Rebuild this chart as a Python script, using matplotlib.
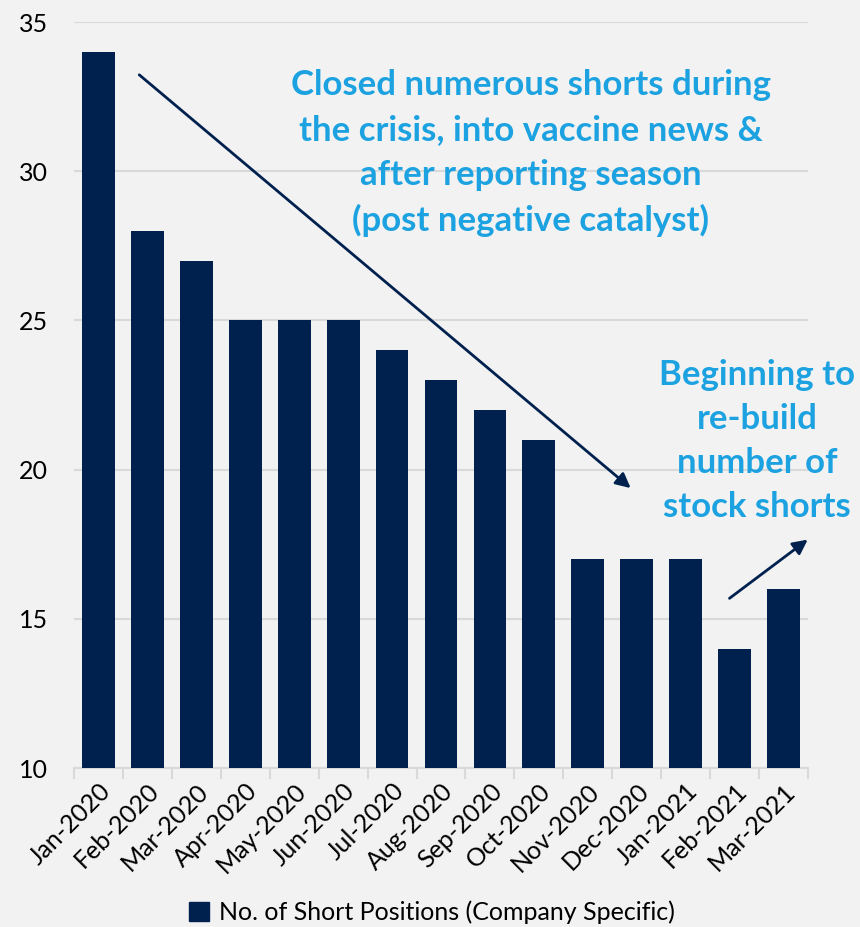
import matplotlib
matplotlib.use("Agg")
import matplotlib.pyplot as plt
from matplotlib.patches import Patch

months = ["Jan-2020", "Feb-2020", "Mar-2020", "Apr-2020", "May-2020", "Jun-2020",
          "Jul-2020", "Aug-2020", "Sep-2020", "Oct-2020", "Nov-2020", "Dec-2020",
          "Jan-2021", "Feb-2021", "Mar-2021"]
shorts = [34, 28, 27, 25, 25, 25, 24, 23, 22, 21, 17, 17, 17, 14, 16]
yticks = [10, 15, 20, 25, 30, 35]

plt.rcParams['font.family'] = ['Lato', 'DejaVu Sans']
bg = "#F2F2F2"
navy = "#00204E"
blue = "#1CA2E0"

fig = plt.figure(figsize=(8.6, 9.27), dpi=100, facecolor=bg)
ax = fig.add_axes([74/860, 1-768/927, (808-74)/860, (768-22)/927])
ax.set_facecolor(bg)

x = list(range(len(months)))
ax.bar(x, shorts, width=0.67, color=navy, zorder=3, bottom=0)
ax.set_ylim(10, 35)
ax.set_xlim(-0.5, len(months) - 0.5)
ax.set_yticks(yticks)
ax.set_yticklabels([str(t) for t in yticks], fontsize=18)
ax.yaxis.grid(True, color="#D9D9D9", linewidth=1.5, zorder=0)
ax.set_axisbelow(True)
ax.tick_params(axis='y', length=0, pad=19)
for s in ['top', 'right', 'left']:
    ax.spines[s].set_visible(False)
ax.spines['bottom'].set_color("#D9D9D9")
ax.spines['bottom'].set_linewidth(1.5)

ax.set_xticks([i - 0.5 for i in range(len(months) + 1)], minor=False)
ax.set_xticklabels([])
ax.tick_params(axis='x', which='major', length=8, color="#D9D9D9", width=1.5)
ax.set_xticks(x, minor=True)
ax.set_xticklabels(months, minor=True, rotation=45, ha='right', rotation_mode='anchor', fontsize=18)
ax.tick_params(axis='x', which='minor', length=0, pad=8)

ax.annotate("", xy=(10.92, 19.32), xytext=(0.79, 33.29),
            arrowprops=dict(arrowstyle="-|>", color=navy, lw=2, mutation_scale=22),
            annotation_clip=False)
ax.annotate("", xy=(14.54, 17.71), xytext=(12.85, 15.63),
            arrowprops=dict(arrowstyle="-|>", color=navy, lw=2, mutation_scale=22),
            annotation_clip=False)

fig.text(531/860, 1-153/927,
         "Closed numerous shorts during\nthe crisis, into vaccine news &\nafter reporting season\n(post negative catalyst)",
         ha='center', va='center', color=blue, fontsize=25, fontweight='bold', linespacing=1.5)
fig.text(757/860, 1-441/927,
         "Beginning to\nre-build\nnumber of\nstock shorts",
         ha='center', va='center', color=blue, fontsize=25, fontweight='bold', linespacing=1.45)

leg = fig.legend(handles=[Patch(color=navy, label="No. of Short Positions (Company Specific)")],
                 loc='center', bbox_to_anchor=(432/860, 1-912/927), frameon=False,
                 fontsize=18, handlelength=0.8, handleheight=0.8, handletextpad=0.4)

fig.savefig("out.png", dpi=100, facecolor=bg)
